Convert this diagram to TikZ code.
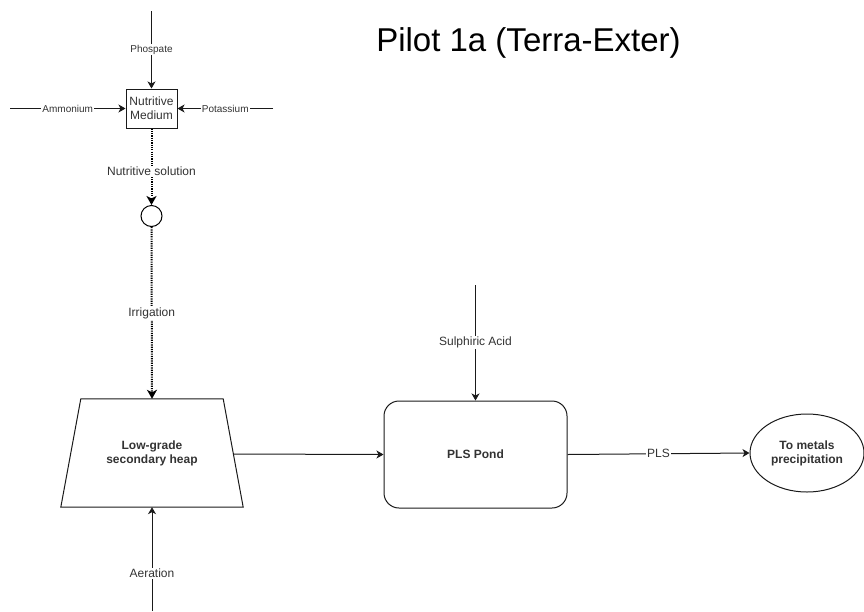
\documentclass[tikz,border=0pt]{standalone}
\usepackage{fontspec}
\setmainfont{Liberation Sans}
\usetikzlibrary{shapes.geometric,arrows.meta,calc}
\definecolor{lblgray}{HTML}{333333}
\definecolor{linecol}{HTML}{1A1A1A}
\tikzset{
  smalllbl/.style={fill=white,inner sep=1pt,text=lblgray,font=\fontsize{10}{12}\selectfont},
  midlbl/.style={fill=white,inner sep=1pt,text=lblgray,font=\fontsize{12}{14}\selectfont},
  thinarrow/.style={draw=linecol,line width=1pt,-{Stealth[length=7pt,width=8pt,inset=2pt]}},
  dotarrow/.style={draw=black,line width=2pt,dash pattern=on 1.2pt off 1.1pt,-{Stealth[length=9pt,width=10pt,inset=2.5pt]}},
  boxnode/.style={draw=linecol,line width=1pt,align=center,inner sep=0pt},
  bodytext/.style={font=\bfseries\fontsize{12}{14}\selectfont,text=lblgray}
}
\begin{document}
\begin{tikzpicture}[x=1pt,y=-1pt]
\useasboundingbox (0,0) rectangle (864,611);
% title
\node[anchor=base,inner sep=0pt,font=\fontsize{33}{38}\selectfont] (title) at (528.5,51.5) {Pilot 1a (Terra-Exter)};
% nodes
\node[boxnode,minimum width=51pt,minimum height=39pt,text=lblgray,font=\fontsize{12}{14}\selectfont] (nm) at (151.5,108.5) {Nutritive\\Medium};
\node[draw=black,line width=1pt,circle,minimum size=21pt,inner sep=0pt] (valve) at (151.5,216) {};
\node[align=center,inner sep=0pt,minimum width=182pt,minimum height=108pt,bodytext] (heap) at (152,453) {Low-grade\\secondary heap};
\draw[draw=linecol,line width=1pt] (heap.south west) -- ($(heap.north west)+(20,0)$) -- ($(heap.north east)+(-20,0)$) -- (heap.south east) -- cycle;
\coordinate (heapright) at ($(heap.east)+(-10,1)$);
\node[boxnode,rounded corners=15pt,minimum width=183pt,minimum height=107pt,bodytext] (pond) at (475.5,454.5) {PLS Pond};
\node[boxnode,ellipse,minimum width=114pt,minimum height=78pt,bodytext] (metals) at (807,453) {To metals\\precipitation};
% free ends
\coordinate (phtop) at (151.5,11);
\coordinate (amleft) at (10,108.5);
\coordinate (poright) at (273,108.5);
\coordinate (aerbot) at (152,611);
\coordinate (sulftop) at (475.5,285);
% connectors
\draw[thinarrow] (phtop) -- node[smalllbl]{Phospate} (nm.north);
\draw[thinarrow] (amleft) -- node[smalllbl]{Ammonium} (nm.west);
\draw[thinarrow] (poright) -- node[smalllbl]{Potassium} (nm.east);
\draw[dotarrow] (nm.south) -- node[midlbl,pos=0.56]{Nutritive solution} (valve.north);
\draw[dotarrow] (valve.south) -- node[midlbl]{Irrigation} (heap.north);
\draw[thinarrow] (aerbot) -- node[midlbl,pos=0.36]{Aeration} (heap.south);
\draw[thinarrow] (heapright) -- (pond.west);
\draw[thinarrow] (sulftop) -- node[midlbl]{Sulphiric Acid} (pond.north);
\draw[thinarrow] (pond.east) -- node[midlbl]{PLS} (metals.west);
\end{tikzpicture}
\end{document}
